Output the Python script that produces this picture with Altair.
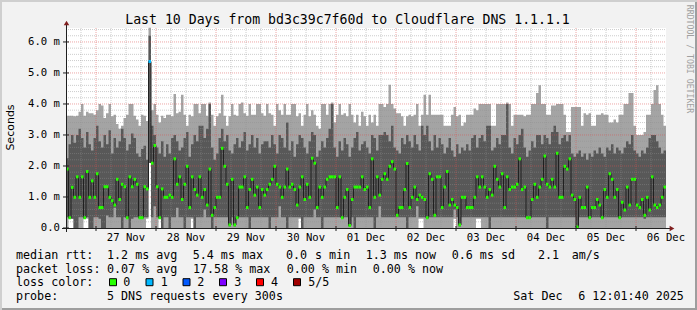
import altair as alt
import pandas as pd

# ---------------- data ----------------
DAY_LABELS = ["27 Nov", "28 Nov", "29 Nov", "30 Nov", "01 Dec",
              "02 Dec", "03 Dec", "04 Dec", "05 Dec", "06 Dec"]
Y_TICKS = [0, 1, 2, 3, 4, 5, 6]
Y_LABELS = ["0.0", "1.0 m", "2.0 m", "3.0 m", "4.0 m", "5.0 m", "6.0 m"]
HOURS = 240  # 10 days shown, one column per hour

MEDIAN = [
    1.90, 0.33, 1.31, 0.99, 1.65, 0.99, 1.65, 0.33, 1.82, 0.99,
    1.52, 0.99, 1.75, 0.66, 0.66, 1.33, 1.33, 0.99, 0.88, 0.74,
    1.57, 0.92, 1.41, 1.33, 0.33, 1.65, 1.33, 1.57, 1.41, 0.33,
    0.33, 1.33, 1.26, 5.37, 2.09, 2.66, 1.33, 0.33, 1.26, 0.99,
    0.99, 1.06, 0.99, 2.23, 1.41, 1.65, 0.92, 1.41, 1.99, 0.66,
    1.65, 1.24, 1.06, 1.65, 0.99, 1.24, 0.74, 1.90, 0.41, 0.66,
    0.99, 0.99, 2.57, 1.99, 1.41, 0.10, 1.57, 0.10, 0.33, 1.32,
    1.32, 1.65, 0.66, 1.24, 1.57, 1.06, 1.32, 0.66, 1.24, 1.06,
    1.24, 1.41, 1.57, 1.99, 1.41, 1.32, 0.99, 1.32, 1.90, 1.32,
    1.41, 1.24, 0.74, 1.32, 1.65, 0.92, 1.41, 0.99, 2.25, 2.09,
    0.66, 1.32, 0.99, 1.32, 1.57, 1.65, 1.65, 1.65, 0.66, 1.65,
    0.33, 0.99, 1.24, 0.08, 0.92, 1.32, 1.32, 1.32, 1.65, 1.24,
    1.32, 0.66, 2.23, 0.99, 1.65, 1.06, 1.57, 1.75, 1.57, 1.99,
    2.14, 1.90, 0.41, 0.66, 0.66, 1.24, 2.08, 0.66, 0.99, 1.32,
    0.92, 1.06, 0.99, 0.92, 0.33, 1.75, 1.57, 0.41, 1.65, 1.65,
    0.66, 1.32, 1.82, 0.74, 0.92, 0.74, 0.66, 0.10, 0.99, 0.99,
    0.66, 0.66, 0.66, 0.99, 1.65, 1.32, 1.65, 1.32, 0.99, 1.24,
    1.06, 1.99, 1.57, 1.32, 1.75, 0.66, 1.65, 1.24, 1.32, 1.32,
    1.41, 2.23, 1.24, 1.32, 0.33, 0.33, 0.92, 1.41, 0.99, 1.32,
    1.57, 2.32, 1.41, 1.32, 1.57, 1.32, 2.41, 0.99, 0.99, 1.99,
    1.90, 2.23, 1.06, 0.92, 0.03, 0.99, 0.66, 0.66, 1.32, 0.33,
    0.66, 0.66, 0.92, 0.74, 0.33, 1.24, 0.99, 1.75, 1.57, 0.99,
    1.24, 0.33, 0.83, 0.58, 1.32, 0.74, 1.57, 1.57, 0.74, 0.66,
    0.92, 0.41, 0.99, 0.58, 1.65, 0.74, 0.66, 0.74, 0.99, 1.32,
]

# highest ping
P5 = [
    3.62, 3.62, 3.62, 3.60, 3.62, 3.75, 4.00, 3.62, 3.75, 3.70,
    3.70, 3.65, 3.80, 4.00, 3.95, 3.55, 3.70, 4.00, 3.60, 3.65,
    3.35, 3.20, 3.30, 3.55, 3.65, 4.00, 4.00, 3.62, 3.50, 3.30,
    3.65, 3.62, 3.45, 6.46, 3.80, 4.00, 3.65, 3.40, 3.62, 3.55,
    3.65, 3.65, 3.60, 4.32, 3.70, 3.75, 4.30, 3.65, 3.30, 3.65,
    3.60, 4.00, 4.00, 3.70, 4.00, 4.00, 3.62, 4.05, 3.65, 3.30,
    3.60, 3.70, 4.30, 3.62, 3.30, 3.60, 4.00, 3.65, 3.62, 4.00,
    4.05, 3.70, 3.62, 4.00, 3.65, 3.65, 4.00, 4.00, 3.70, 3.62,
    4.00, 3.70, 3.65, 3.30, 4.00, 3.80, 3.65, 4.00, 3.65, 3.65,
    4.00, 4.00, 3.60, 3.70, 3.30, 3.65, 4.00, 3.60, 3.80, 3.65,
    3.30, 3.20, 4.00, 4.00, 3.65, 4.00, 4.05, 3.40, 3.65, 4.00,
    3.65, 3.70, 3.60, 4.00, 3.65, 3.40, 3.65, 3.30, 3.75, 3.60,
    3.30, 3.65, 3.40, 3.65, 3.30, 4.00, 4.00, 3.90, 4.00, 4.62,
    4.00, 3.85, 3.70, 3.70, 3.60, 3.30, 3.60, 3.65, 3.60, 3.65,
    4.00, 3.30, 3.65, 4.30, 3.65, 4.30, 3.65, 3.65, 3.65, 3.65,
    3.65, 3.30, 3.30, 3.30, 3.65, 3.90, 3.60, 3.65, 3.30, 3.40,
    3.65, 3.65, 3.65, 3.85, 3.80, 4.00, 4.00, 4.00, 4.00, 4.00,
    3.30, 3.30, 4.00, 4.00, 4.00, 4.00, 4.05, 4.00, 3.30, 3.65,
    3.65, 3.65, 3.65, 3.60, 3.65, 3.65, 4.00, 4.00, 4.35, 4.60,
    4.00, 4.00, 3.65, 3.65, 3.95, 3.95, 4.00, 4.00, 4.00, 3.65,
    3.10, 3.10, 3.90, 3.90, 3.90, 3.90, 3.30, 3.70, 3.65, 3.70,
    3.30, 3.30, 3.65, 3.65, 3.70, 3.65, 3.65, 3.40, 3.40, 3.50,
    3.40, 3.65, 3.65, 4.00, 4.00, 4.35, 4.35, 3.30, 3.00, 3.00,
    3.00, 3.10, 3.65, 3.65, 4.00, 4.45, 4.60, 4.00, 3.65, 3.30,
]

# fourth ping
P4 = [
    2.25, 2.70, 3.00, 2.75, 3.00, 3.20, 2.90, 2.60, 3.10, 2.70,
    2.50, 2.90, 3.30, 2.80, 2.60, 3.00, 2.70, 3.15, 2.40, 2.90,
    2.60, 2.80, 3.20, 2.90, 2.50, 2.70, 3.05, 2.90, 2.40, 2.30,
    2.55, 2.65, 2.20, 6.20, 3.30, 3.00, 2.60, 2.40, 2.80, 2.30,
    2.70, 2.40, 2.90, 3.00, 2.80, 2.50, 2.60, 2.90, 3.10, 2.30,
    2.70, 3.00, 2.80, 3.30, 3.30, 2.90, 3.20, 4.00, 2.60, 2.20,
    2.40, 2.90, 3.20, 2.80, 3.00, 2.50, 2.40, 2.70, 2.90, 2.60,
    2.80, 3.10, 2.50, 2.70, 3.00, 2.60, 2.90, 2.40, 2.70, 2.80,
    2.80, 2.60, 3.00, 2.70, 2.40, 3.00, 2.90, 2.60, 3.40, 2.50,
    2.80, 2.30, 2.70, 3.00, 2.90, 2.60, 2.40, 2.80, 3.10, 3.00,
    2.30, 2.50, 2.80, 2.60, 2.90, 3.20, 4.00, 2.60, 2.30, 2.80,
    2.50, 2.90, 2.70, 2.30, 2.60, 2.90, 3.10, 2.50, 2.70, 2.80,
    2.60, 2.40, 3.00, 2.90, 2.50, 3.00, 3.00, 3.10, 3.00, 2.80,
    3.30, 2.60, 2.50, 2.40, 2.90, 2.70, 3.00, 2.80, 2.60, 3.00,
    2.70, 2.50, 3.30, 3.00, 3.30, 2.80, 2.50, 3.00, 2.60, 2.90,
    2.70, 2.40, 2.60, 2.90, 2.50, 2.30, 2.70, 2.40, 2.60, 2.50,
    2.70, 2.50, 2.90, 3.00, 2.60, 2.90, 3.00, 2.80, 3.30, 3.30,
    2.50, 2.60, 2.90, 2.70, 3.00, 3.00, 4.00, 2.60, 2.40, 2.90,
    2.70, 3.00, 3.20, 2.60, 2.30, 2.50, 2.80, 2.60, 3.00, 3.00,
    2.70, 3.00, 2.90, 2.70, 3.10, 3.30, 3.10, 2.70, 2.90, 3.00,
    2.80, 3.00, 2.40, 2.30, 2.40, 2.50, 2.30, 2.40, 2.20, 2.40,
    2.30, 2.50, 2.40, 2.60, 2.40, 2.30, 2.60, 2.50, 2.70, 2.40,
    2.60, 2.50, 2.40, 2.60, 2.80, 2.70, 3.00, 2.50, 2.40, 2.30,
    2.50, 2.40, 2.60, 2.90, 3.00, 3.00, 2.80, 2.60, 2.40, 2.50,
]

# second ping
P2 = [
    0.35, 0.30, 0.30, 0.00, 0.00, 0.35, 0.35, 0.30, 0.35, 0.00,
    0.00, 0.35, 0.35, 0.30, 0.00, 0.00, 0.40, 0.35, 0.35, 0.65,
    0.35, 0.35, 0.00, 0.35, 0.30, 0.00, 0.30, 0.35, 0.35, 0.30,
    0.30, 0.35, 0.35, 2.10, 0.35, 0.70, 0.35, 0.30, 0.00, 0.35,
    0.35, 0.00, 0.35, 0.35, 0.65, 0.35, 0.35, 0.00, 0.35, 0.35,
    0.35, 0.00, 0.35, 0.35, 0.35, 0.60, 0.35, 0.35, 0.00, 0.35,
    0.35, 0.35, 0.35, 0.35, 0.35, 0.05, 0.35, 0.05, 0.30, 0.35,
    0.35, 0.35, 0.35, 0.00, 0.35, 0.35, 0.35, 0.35, 0.35, 0.35,
    0.35, 0.00, 0.35, 0.35, 0.35, 0.70, 0.35, 0.35, 0.00, 0.35,
    0.35, 0.35, 0.35, 0.35, 0.00, 0.35, 0.35, 0.35, 0.35, 0.60,
    0.35, 0.35, 0.00, 0.35, 0.35, 0.35, 0.35, 0.35, 0.35, 0.35,
    0.30, 0.35, 0.35, 0.05, 0.35, 0.00, 0.35, 0.35, 0.35, 0.35,
    0.35, 0.35, 0.35, 0.00, 0.35, 0.70, 0.35, 0.35, 0.35, 0.35,
    0.35, 0.35, 0.35, 0.35, 0.35, 0.35, 0.00, 0.35, 0.35, 0.35,
    0.70, 0.35, 0.35, 0.35, 0.30, 0.35, 0.35, 0.35, 0.35, 0.35,
    0.35, 0.35, 0.35, 0.35, 0.35, 0.60, 0.35, 0.05, 0.35, 0.35,
    0.35, 0.35, 0.35, 0.35, 0.35, 0.35, 0.35, 0.35, 0.35, 0.00,
    0.35, 0.35, 0.35, 0.35, 0.35, 0.35, 0.35, 0.35, 0.35, 0.35,
    0.35, 0.35, 0.35, 0.35, 0.30, 0.30, 0.35, 0.35, 0.35, 0.35,
    0.35, 0.35, 0.00, 0.35, 0.35, 0.35, 0.35, 0.35, 0.35, 0.35,
    0.35, 0.35, 0.35, 0.35, 0.00, 0.35, 0.35, 0.35, 0.35, 0.30,
    0.35, 0.35, 0.35, 0.35, 0.30, 0.35, 0.35, 0.35, 0.35, 0.35,
    0.35, 0.30, 0.35, 0.35, 0.35, 0.35, 0.35, 0.35, 0.35, 0.35,
    0.35, 0.30, 0.35, 0.35, 0.35, 0.35, 0.35, 0.35, 0.35, 0.35,
]

# lowest ping
P1 = [
    0.00, 0.30, 0.30, 0.00, 0.00, 0.00, 0.00, 0.30, 0.30, 0.00,
    0.00, 0.00, 0.00, 0.00, 0.00, 0.00, 0.00, 0.00, 0.00, 0.00,
    0.00, 0.00, 0.00, 0.00, 0.00, 0.00, 0.00, 0.00, 0.00, 0.00,
    0.00, 0.00, 0.30, 2.10, 0.00, 0.00, 0.00, 0.30, 0.00, 0.00,
    0.00, 0.00, 0.00, 0.00, 0.00, 0.00, 0.00, 0.00, 0.00, 0.00,
    0.30, 0.00, 0.00, 0.00, 0.00, 0.00, 0.00, 0.00, 0.00, 0.00,
    0.00, 0.00, 0.00, 0.00, 0.00, 0.00, 0.00, 0.00, 0.00, 0.00,
    0.00, 0.00, 0.00, 0.00, 0.00, 0.00, 0.00, 0.00, 0.00, 0.00,
    0.00, 0.00, 0.00, 0.00, 0.00, 0.00, 0.00, 0.00, 0.00, 0.00,
    0.00, 0.00, 0.00, 0.30, 0.00, 0.00, 0.00, 0.00, 0.00, 0.00,
    0.00, 0.00, 0.00, 0.00, 0.00, 0.00, 0.00, 0.00, 0.00, 0.00,
    0.00, 0.00, 0.00, 0.00, 0.00, 0.00, 0.00, 0.00, 0.00, 0.00,
    0.00, 0.00, 0.00, 0.00, 0.00, 0.00, 0.00, 0.00, 0.00, 0.00,
    0.00, 0.00, 0.00, 0.00, 0.00, 0.00, 0.00, 0.00, 0.00, 0.00,
    0.00, 0.30, 0.30, 0.00, 0.00, 0.00, 0.00, 0.00, 0.00, 0.00,
    0.00, 0.00, 0.00, 0.00, 0.00, 0.30, 0.00, 0.00, 0.00, 0.00,
    0.00, 0.00, 0.00, 0.00, 0.30, 0.30, 0.00, 0.00, 0.00, 0.00,
    0.00, 0.00, 0.00, 0.00, 0.00, 0.00, 0.00, 0.00, 0.00, 0.00,
    0.00, 0.00, 0.00, 0.00, 0.00, 0.00, 0.00, 0.00, 0.00, 0.00,
    0.00, 0.00, 0.00, 0.00, 0.00, 0.00, 0.00, 0.00, 0.00, 0.00,
    0.00, 0.00, 0.00, 0.00, 0.00, 0.00, 0.00, 0.00, 0.00, 0.00,
    0.00, 0.00, 0.00, 0.00, 0.00, 0.00, 0.00, 0.00, 0.00, 0.00,
    0.00, 0.00, 0.00, 0.00, 0.00, 0.00, 0.00, 0.00, 0.00, 0.00,
    0.00, 0.00, 0.00, 0.00, 0.00, 0.00, 0.00, 0.00, 0.00, 0.00,
]

# pings lost per column (column index: lost of 5); all others 0
LOSS_EVENTS = {33: 1}

LOSS_COLORS = ["#26ff00", "#00b8ff", "#0059ff", "#7e00ff", "#ff0000", "#a00000"]
LOSS_LABELS = ["0", "1", "2", "3", "4", "5/5"]

TITLE = "Last 10 Days from bd3c39c7f60d to Cloudflare DNS 1.1.1.1"
STAT_LINE1 = ["median rtt:", "1.2 ms avg", "5.4 ms max", "0.0", "s min",
              "1.3 ms now", "0.6 ms sd", "2.1", "am/s"]
STAT_LINE2 = ["packet loss:", "0.07 % avg", "17.58 % max", "0.00 % min", "0.00 % now"]
STAT_LINE4 = ["probe:", "5 DNS requests every 300s", "Sat Dec", "6 12:01:40 2025"]

# ---------------- build tables ----------------
n = len(MEDIAN)
step = HOURS / n
rows = []
for i in range(n):
    loss = LOSS_EVENTS.get(i, 0)
    rows.append(dict(t=i * step, t1=(i + 1) * step, med=MEDIAN[i],
                     p1=P1[i], p2=P2[i], p4=P4[i], p5=P5[i],
                     color=LOSS_COLORS[loss]))
df = pd.DataFrame(rows)
last = df.iloc[[-1]].copy()
last["t"] = HOURS
dfa = pd.concat([df, last], ignore_index=True)

ONE = pd.DataFrame({"a": [0]})
W, H = 600, 200
YMAX = 6.45

xs = alt.Scale(domain=[0, HOURS], nice=False, zero=False)
ys = alt.Scale(domain=[0, YMAX], nice=False, zero=False)
MONO = "DejaVu Sans Mono"

light = alt.Chart(dfa).mark_area(interpolate="step-after", color="#a4a4a4", opacity=1).encode(
    x=alt.X("t:Q", scale=xs, axis=None),
    y=alt.Y("p5:Q", scale=ys, axis=None),
    y2="p1:Q",
)
dark = alt.Chart(dfa).mark_area(interpolate="step-after", color="#585858", opacity=1).encode(
    x=alt.X("t:Q", scale=xs, axis=None),
    y=alt.Y("p4:Q", scale=ys, axis=None),
    y2="p2:Q",
)

# grid
minor_y = pd.DataFrame({"v": [round(0.2 * k, 1) for k in range(1, 33) if k % 5 != 0]})
major_y = pd.DataFrame({"v": Y_TICKS[1:]})
minor_x = pd.DataFrame({"v": [6 * k for k in range(1, 40) if (6 * k - 12) % 24 != 0]})
major_x = pd.DataFrame({"v": [12 + 24 * k for k in range(10)]})

def hgrid(d, color, op):
    return alt.Chart(d).mark_rule(color=color, opacity=op, strokeDash=[1, 1], strokeWidth=1).encode(
        y=alt.Y("v:Q", scale=ys, axis=None), x=alt.value(0), x2=alt.value(W))

def vgrid(d, color, op):
    return alt.Chart(d).mark_rule(color=color, opacity=op, strokeDash=[1, 1], strokeWidth=1).encode(
        x=alt.X("v:Q", scale=xs, axis=None), y=alt.value(0), y2=alt.value(H))

GRID = "#8f8f8f"
MGRID = "#de4f4f"
grids = [hgrid(minor_y, GRID, 0.45), vgrid(minor_x, GRID, 0.45),
         hgrid(major_y, MGRID, 0.5), vgrid(major_x, MGRID, 0.5)]

med_line = alt.Chart(dfa).mark_line(interpolate="step-after", color="#202020", strokeWidth=1).encode(
    x=alt.X("t:Q", scale=xs, axis=None),
    y=alt.Y("med:Q", scale=ys, axis=None),
)
med_seg = alt.Chart(df).mark_rule(strokeWidth=3, strokeCap="butt").encode(
    x=alt.X("t:Q", scale=xs, axis=None),
    x2="t1:Q",
    y=alt.Y("med:Q", scale=ys, axis=None),
    color=alt.Color("color:N", scale=None, legend=None),
)

# axis lines, ticks, labels and arrows
AXIS = "#1f1f1f"
ARROW = "#801f1f"
x_line = alt.Chart(ONE).mark_rule(color=AXIS, strokeWidth=1).encode(
    x=alt.value(-4), x2=alt.value(W + 4), y=alt.value(H + 0.5))
y_line = alt.Chart(ONE).mark_rule(color=AXIS, strokeWidth=1).encode(
    x=alt.value(0.5), y=alt.value(H + 4), y2=alt.value(-4))
x_ticks = alt.Chart(major_x).mark_rule(color=AXIS, strokeWidth=1).encode(
    x=alt.X("v:Q", scale=xs, axis=None), y=alt.value(H - 2), y2=alt.value(H + 3))
ytick_df = pd.DataFrame({"v": Y_TICKS, "lab": Y_LABELS})
y_ticks = alt.Chart(ytick_df).mark_rule(color=AXIS, strokeWidth=1).encode(
    y=alt.Y("v:Q", scale=ys, axis=None), x=alt.value(-3), x2=alt.value(3))
y_labels = alt.Chart(ytick_df).mark_text(align="right", baseline="middle", font=MONO,
                                         fontSize=10.6, color="#000000").encode(
    y=alt.Y("v:Q", scale=ys, axis=None), x=alt.value(-6), text="lab:N")
xlab_df = pd.DataFrame({"v": [24 * (k + 1) for k in range(len(DAY_LABELS))], "lab": DAY_LABELS})
x_labels = alt.Chart(xlab_df).mark_text(align="center", baseline="top", font=MONO,
                                        fontSize=10.6, color="#000000").encode(
    x=alt.X("v:Q", scale=xs, axis=None), y=alt.value(H + 5), text="lab:N")
arrow_r = alt.Chart(ONE).mark_point(shape="triangle-right", filled=True, color=ARROW,
                                    size=30, opacity=1).encode(
    x=alt.value(W + 6), y=alt.value(H + 0.5))
arrow_u = alt.Chart(ONE).mark_point(shape="triangle-up", filled=True, color=ARROW,
                                    size=30, opacity=1).encode(
    x=alt.value(0.5), y=alt.value(-5))

def txt(s, px, py, size=11.7, font=MONO, align="left", baseline="alphabetic",
        color="#000000", angle=0):
    return alt.Chart(ONE).mark_text(text=s, align=align, baseline=baseline, font=font,
                                    fontSize=size, color=color, angle=angle).encode(
        x=alt.value(px), y=alt.value(py))

texts = [
    txt(TITLE, 281.5, -4, size=13.2, align="center"),
    txt("Seconds", -55.5, 99.5, size=11, font="DejaVu Sans", align="center",
        baseline="middle", angle=270),
    txt("RRDTOOL / TOBI OETIKER", 622.5, 31, size=8.2, align="center",
        baseline="middle", color="#a0a0a0", angle=90),
]

L1_X = [-50, 41, 126.7, 220, 249, 299.7, 385.7, 472, 505.7]
for s, px in zip(STAT_LINE1, L1_X):
    texts.append(txt(s, px, 230.5))
L2_X = [-50, 41, 127, 220.7, 306.7]
for s, px in zip(STAT_LINE2, L2_X):
    texts.append(txt(s, px, 244.5))
texts.append(txt("loss color:", -50, 258.3))
SQ_X = [47, 83.5, 120.5, 157, 194, 231]
LAB_X = [57.3, 94.7, 131.3, 168.3, 205, 242.3]
for c, lab, sx, lx in zip(LOSS_COLORS, LOSS_LABELS, SQ_X, LAB_X):
    texts.append(alt.Chart(ONE).mark_point(shape="square", filled=True, fill=c,
                                           stroke="#000000", strokeWidth=1, size=49,
                                           opacity=1).encode(
        x=alt.value(sx), y=alt.value(254.2)))
    texts.append(txt(lab, lx, 258.3))
L4_X = [-50, 41, 447.3, 512.3]
for s, px in zip(STAT_LINE4, L4_X):
    texts.append(txt(s, px, 272))

# outer frame (3D shading)
frame = [
    alt.Chart(ONE).mark_rule(color="#cfcfcf", strokeWidth=2).encode(
        x=alt.value(-66), x2=alt.value(631), y=alt.value(-27)),
    alt.Chart(ONE).mark_rule(color="#cfcfcf", strokeWidth=2).encode(
        x=alt.value(-65), y=alt.value(-28), y2=alt.value(282)),
    alt.Chart(ONE).mark_rule(color="#9e9e9e", strokeWidth=2).encode(
        x=alt.value(-64), x2=alt.value(631), y=alt.value(281)),
    alt.Chart(ONE).mark_rule(color="#9e9e9e", strokeWidth=2).encode(
        x=alt.value(630), y=alt.value(-26), y2=alt.value(282)),
]

chart = alt.layer(
    light, dark, *grids, med_line, med_seg,
    x_line, y_line, x_ticks, y_ticks, y_labels, x_labels, arrow_r, arrow_u,
    *texts, *frame,
).properties(
    width=W, height=H,
    background="#f2f2f2",
    padding={"left": 66, "top": 28, "right": 31, "bottom": 82},
    autosize=alt.AutoSizeParams(type="none"),
).configure_view(fill="#ffffff", stroke=None)

chart.save("out.html", embed_options={"renderer": "svg", "actions": False})
